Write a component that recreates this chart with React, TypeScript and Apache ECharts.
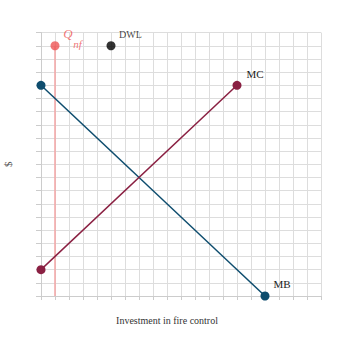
import React, { useEffect, useRef } from "react";
import * as echarts from "echarts";

const mbPoints: [number, number][] = [[0, 16], [16, 0]];
const mcPoints: [number, number][] = [[0, 2], [14, 16]];
const qnfLine: [number, number][] = [[1, 0], [1, 19]];
const qnfPoint: [number, number] = [1, 19];
const dwlPoint: [number, number] = [5, 19];
const xTitle = "Investment in fire control";
const yTitle = "$";

const MB_COLOR = "#0e4d6e";
const MC_COLOR = "#8a2042";
const Q_COLOR = "#ee5555";
const Q_LINE = "#f3a5a5";
const FONT = "Liberation Serif";

export default function App() {
  const ref = useRef<HTMLDivElement>(null);
  useEffect(() => {
    document.body.style.margin = "0";
    const chart = echarts.init(ref.current!, null, { renderer: "svg" });
    const endLabel = (text: string, offset: number[], size = 11) => ({
      show: true,
      formatter: text,
      position: "inside",
      offset,
      fontFamily: FONT,
      fontSize: size,
      color: "#222",
    });
    chart.setOption({
      animation: false,
      grid: {
        left: 41,
        right: 38,
        top: 32.6,
        bottom: 54,
        containLabel: false,
        outerBoundsMode: "none",
      },
      xAxis: {
        type: "value",
        min: 0,
        max: 20,
        interval: 1,
        axisLabel: { show: false },
        axisLine: { show: true, lineStyle: { color: "#cccccc" } },
        axisTick: { show: true, length: 4, lineStyle: { color: "#cccccc" } },
        splitLine: { show: true, lineStyle: { color: "#dddddd", width: 1 } },
      },
      yAxis: {
        type: "value",
        min: 0,
        max: 20,
        interval: 1,
        name: yTitle,
        nameLocation: "middle",
        nameGap: 28,
        nameTextStyle: { fontFamily: FONT, fontSize: 11, color: "#555" },
        axisLabel: { show: false },
        axisLine: { show: true, lineStyle: { color: "#cccccc" } },
        axisTick: { show: true, length: 5, lineStyle: { color: "#cccccc" } },
        splitLine: { show: true, lineStyle: { color: "#dddddd", width: 1 } },
      },
      graphic: [
        {
          type: "text",
          x: 167,
          y: 320,
          style: {
            text: xTitle,
            fontFamily: FONT,
            fontSize: 10,
            fill: "#333",
            textAlign: "center",
            textVerticalAlign: "middle",
          },
        },
      ],
      series: [
        {
          type: "line",
          data: qnfLine,
          symbol: "none",
          lineStyle: { color: Q_LINE, width: 1.5 },
          z: 2,
        },
        {
          type: "line",
          data: [
            { value: mbPoints[0] },
            { value: mbPoints[1], label: endLabel("MB", [17, -12]) },
          ],
          symbol: "circle",
          symbolSize: 9,
          itemStyle: { color: MB_COLOR },
          lineStyle: { color: MB_COLOR, width: 1.5 },
          z: 3,
        },
        {
          type: "line",
          data: [
            { value: mcPoints[0] },
            { value: mcPoints[1], label: endLabel("MC", [18, -11.7]) },
          ],
          symbol: "circle",
          symbolSize: 9,
          itemStyle: { color: MC_COLOR },
          lineStyle: { color: MC_COLOR, width: 1.5 },
          z: 3,
        },
        {
          type: "scatter",
          data: [
            {
              value: qnfPoint,
              label: {
                show: true,
                position: "inside",
                offset: [13, -12],
                formatter: "Q",
                fontFamily: FONT,
                fontStyle: "italic",
                fontSize: 13,
                color: Q_COLOR,
              },
            },
          ],
          symbol: "circle",
          symbolSize: 9,
          itemStyle: { color: Q_COLOR },
          z: 4,
        },
        {
          type: "scatter",
          data: [
            {
              value: qnfPoint,
              label: {
                show: true,
                position: "inside",
                offset: [22.5, -2],
                formatter: "nf",
                fontFamily: FONT,
                fontStyle: "italic",
                fontSize: 11,
                color: Q_COLOR,
              },
            },
          ],
          symbol: "circle",
          symbolSize: 0,
          itemStyle: { color: "transparent" },
          z: 4,
          silent: true,
        },
        {
          type: "scatter",
          data: [
            { value: dwlPoint, label: { ...endLabel("DWL", [19.5, -11.7], 10), color: "#111" } },
          ],
          symbol: "circle",
          symbolSize: 9,
          itemStyle: { color: "#000" },
          z: 4,
        },
      ],
    });
    return () => chart.dispose();
  }, []);
  return <div ref={ref} style={{ width: 359, height: 350 }} />;
}
